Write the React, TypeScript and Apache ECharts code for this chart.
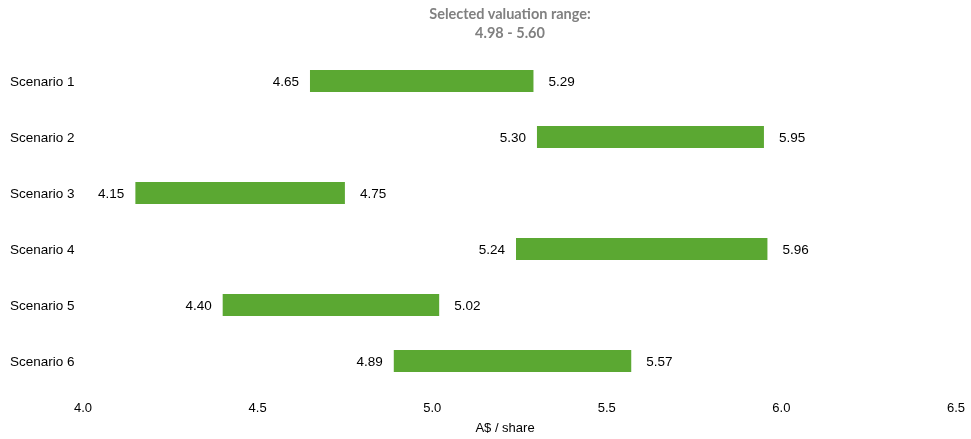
import React, { useEffect, useRef } from "react";
import * as echarts from "echarts";

const categories = ["Scenario 1", "Scenario 2", "Scenario 3", "Scenario 4", "Scenario 5", "Scenario 6"];
const lowValues = [4.65, 5.3, 4.15, 5.24, 4.4, 4.89];
const highValues = [5.29, 5.95, 4.75, 5.96, 5.02, 5.57];
const titleLines = ["Selected valuation range:", "4.98 - 5.60"];
const axisName = "A$ / share";

export default function App() {
  const ref = useRef<HTMLDivElement>(null);
  useEffect(() => {
    const chart = echarts.init(ref.current!, null, { renderer: "svg" });
    const font = "'Liberation Sans', Arial, sans-serif";
    chart.setOption({
      animation: false,
      title: {
        text: titleLines.join("\n"),
        left: 505,
        textAlign: "center",
        top: -1,
        textStyle: {
          fontFamily: "Lato, 'Open Sans', sans-serif",
          fontWeight: "bold",
          fontSize: 14.5,
          lineHeight: 19,
          color: "#808080",
        },
      },
      grid: { left: 83, right: 15, top: 53, bottom: 49, containLabel: false },
      xAxis: {
        type: "value",
        min: 4,
        max: 6.5,
        interval: 0.5,
        axisLine: { show: false },
        axisTick: { show: false },
        splitLine: { show: false },
        axisLabel: {
          margin: 12,
          fontFamily: font,
          fontSize: 13,
          color: "#000",
          formatter: (v: number) => v.toFixed(1),
        },
        name: axisName,
        nameLocation: "middle",
        nameGap: 32,
        nameTextStyle: { fontFamily: font, fontSize: 13, color: "#000", padding: [0, 29, 0, 0] },
      },
      yAxis: {
        type: "category",
        data: categories,
        inverse: true,
        axisLine: { show: false },
        axisTick: { show: false },
        axisLabel: {
          align: "left",
          margin: 73,
          fontFamily: font,
          fontSize: 13.5,
          color: "#000",
        },
      },
      series: [
        {
          type: "bar",
          stack: "r",
          data: lowValues,
          barWidth: 22,
          itemStyle: { color: "transparent" },
          label: {
            show: true,
            position: "insideRight",
            distance: 11,
            fontFamily: font,
            fontSize: 13.5,
            color: "#000",
            formatter: (p: any) => lowValues[p.dataIndex].toFixed(2),
          },
          silent: true,
        },
        {
          type: "bar",
          stack: "r",
          data: highValues.map((h, i) => +(h - lowValues[i]).toFixed(4)),
          barWidth: 22,
          itemStyle: { color: "#5ba832" },
          label: {
            show: true,
            position: "right",
            distance: 15,
            fontFamily: font,
            fontSize: 13.5,
            color: "#000",
            formatter: (p: any) => highValues[p.dataIndex].toFixed(2),
          },
        },
      ],
    });
    return () => chart.dispose();
  }, []);
  return <div ref={ref} style={{ position: "fixed", left: 0, top: 0, width: 971, height: 439 }} />;
}
